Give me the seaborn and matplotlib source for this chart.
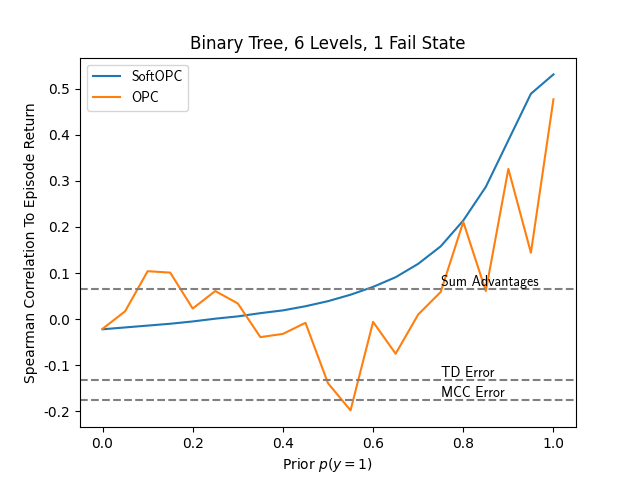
import numpy as np
import pandas as pd
import matplotlib
matplotlib.use("Agg")
import matplotlib.pyplot as plt
import seaborn as sns

plt.rcParams['axes.unicode_minus'] = False

# Prior values on the x axis
priors = [0.0, 0.05, 0.1, 0.15, 0.2, 0.25, 0.3, 0.35, 0.4, 0.45, 0.5,
          0.55, 0.6, 0.65, 0.7, 0.75, 0.8, 0.85, 0.9, 0.95, 1.0]

soft_opc = [-0.022, -0.018, -0.014, -0.010, -0.005, 0.001, 0.006, 0.013,
            0.019, 0.028, 0.039, 0.053, 0.070, 0.091, 0.120, 0.158, 0.214,
            0.287, 0.388, 0.489, 0.531]

opc = [-0.021, 0.017, 0.104, 0.101, 0.023, 0.061, 0.034, -0.039, -0.032,
       -0.008, -0.139, -0.198, -0.006, -0.075, 0.010, 0.059, 0.211, 0.061,
       0.326, 0.144, 0.477]

# Baseline metrics (horizontal lines)
baseline_names = ["Sum Advantages", "TD Error", "MCC Error"]
baseline_values = [0.065, -0.131, -0.176]

df = pd.DataFrame({'prior': priors * 2,
                   'corr': soft_opc + opc,
                   'method': ['SoftOPC'] * len(priors) + ['OPC'] * len(priors)})

fig, ax = plt.subplots(figsize=(6.4, 4.8), dpi=100)
sns.lineplot(data=df, x='prior', y='corr', hue='method',
             palette=['#1f77b4', '#ff7f0e'], linewidth=1.5, ax=ax)

for name, val in zip(baseline_names, baseline_values):
    ax.axhline(val, color='gray', linestyle='--', linewidth=1.5)
    ax.text(0.75, val, name, ha='left', va='bottom', family='cmss10', fontsize=10)

ax.set_title('Binary Tree, 6 Levels, 1 Fail State')
ax.set_xlabel('Prior $p(y=1)$')
ax.set_ylabel('Spearman Correlation To Episode Return')
ax.legend(loc='upper left', prop={'family': 'cmss10', 'size': 10})

fig.savefig('out.png')
